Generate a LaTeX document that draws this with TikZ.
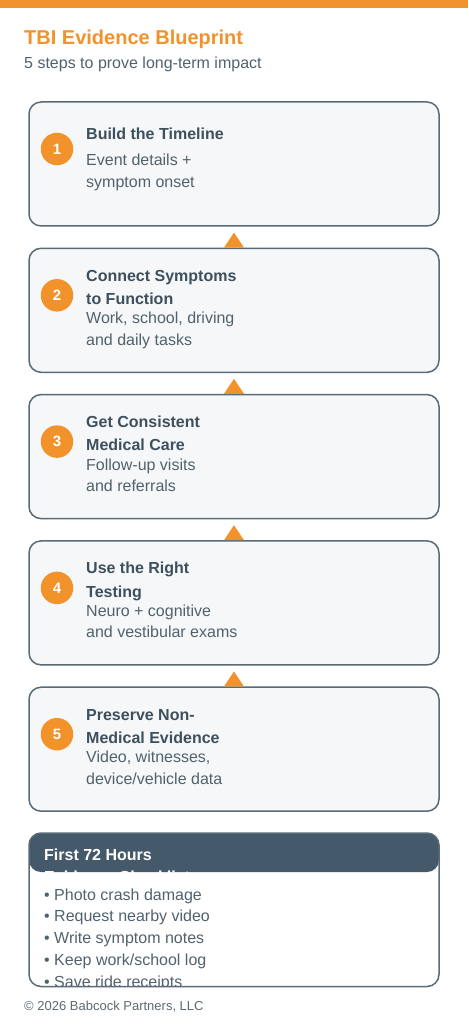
\documentclass[tikz,border=0pt]{standalone}
\usepackage{fontspec}
\setmainfont{Liberation Sans}

\definecolor{brandorange}{HTML}{F2922A}
\definecolor{slate}{HTML}{44596A}
\definecolor{boxline}{HTML}{5A6B77}
\definecolor{boxfill}{HTML}{F5F7F9}
\definecolor{headtext}{HTML}{3E505D}
\definecolor{bodytext}{HTML}{52626D}
\definecolor{footgray}{HTML}{5E6A72}

\tikzset{
  stepbox/.style={draw=boxline, line width=1.5pt, fill=boxfill,
    rounded corners=12pt, minimum width=410pt, minimum height=124pt, inner sep=0pt},
  stepnum/.style={circle, fill=brandorange, minimum size=32.5pt, inner sep=0pt,
    text=white, font=\fontsize{15}{15}\selectfont\bfseries},
  steptitle/.style={anchor=north west, inner sep=0pt, align=left, text=headtext,
    font=\fontsize{16}{23.3}\selectfont\bfseries},
  stepbody/.style={anchor=north west, inner sep=0pt, align=left, text=bodytext,
    font=\fontsize{16}{21.5}\selectfont},
  uptip/.style={fill=brandorange},
  checkitem/.style={anchor=base west, inner sep=0pt, text=bodytext,
    font=\fontsize{16}{16}\selectfont}
}

\begin{document}
\begin{tikzpicture}[x=1pt, y=-1pt]
    \useasboundingbox[fill=white] (0,0) rectangle (468,1024);
    \fill[brandorange] (0,0) rectangle (468,8);

    % heading
    \node[anchor=base west, inner sep=0pt, text=brandorange,
      font=\fontsize{20}{20}\selectfont\bfseries] (title) at (24,45) {TBI Evidence Blueprint};
    \node[anchor=base west, inner sep=0pt, text=bodytext,
      font=\fontsize{16}{16}\selectfont] (subtitle) at (24,68.3) {5 steps to prove long-term impact};

    % the five steps
    \foreach \n/\top/\ty/\by/\ttl/\txt in {
      1/102/20.7/48.7/{Build the Timeline}/{Event details +\\symptom onset},
      2/248.3/16.4/60.2/{Connect Symptoms\\to Function}/{Work, school, driving\\and daily tasks},
      3/394.6/16.4/60.2/{Get Consistent\\Medical Care}/{Follow-up visits\\and referrals},
      4/540.9/16.4/60.2/{Use the Right\\Testing}/{Neuro + cognitive\\and vestibular exams},
      5/687.2/16.4/60.2/{Preserve Non-\\Medical Evidence}/{Video, witnesses,\\device/vehicle data}}
    {
      \node[stepbox] (box\n) at (234,\top+62) {};
      \node[stepnum] (num\n) at (57,\top+47) {\n};
      \node[steptitle] (head\n) at (86,\top+\ty) {\strut\ttl};
      \node[stepbody] (body\n) at (86,\top+\by) {\strut\txt};
    }
    \foreach \n in {2,...,5}
      \fill[uptip] (box\n.north) ++(-10,0) -- ++(10,-15) -- ++(10,15) -- cycle;

    % checklist
    \node[fill=white, rounded corners=12pt, minimum width=410pt, minimum height=153.5pt,
      inner sep=0pt] (checkbox) at (234,909.75) {};
    \begin{scope}
      \clip[rounded corners=12pt] (29,833) rectangle (439,986.5);
      \node[fill=slate, rounded corners=12pt, minimum width=410pt, minimum height=39pt,
        inner sep=0pt] (checkhead) at (234,852.5) {};
      \node[anchor=base west, inner sep=0pt, text=white,
        font=\fontsize{16}{16}\selectfont\bfseries] (checktitle) at (44,860) {First 72 Hours};
      \node[anchor=base west, inner sep=0pt, text=white,
        font=\fontsize{16}{16}\selectfont\bfseries] (checktitle2) at (44,882) {Evidence Checklist};
      \foreach \i/\item in {0/{Photo crash damage}, 1/{Request nearby video},
        2/{Write symptom notes}, 3/{Keep work/school log}, 4/{Save ride receipts}}
        \node[checkitem] (item\i) at (44,900+21.75*\i) {\textbullet\ \item};
    \end{scope}
    \draw[boxline, line width=1.5pt, rounded corners=12pt] (29,833) rectangle (439,986.5);

    \node[anchor=base west, inner sep=0pt, text=footgray,
      font=\fontsize{13}{13}\selectfont] (footer) at (24,1010.5) {\textcopyright\ 2026 Babcock Partners, LLC};
\end{tikzpicture}
\end{document}
